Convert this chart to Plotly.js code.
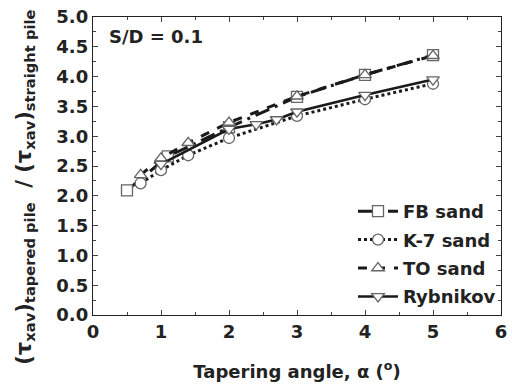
<!DOCTYPE html>
<html><head><meta charset="utf-8">
<script src="https://cdn.plot.ly/plotly-3.0.1.min.js"></script>
<style>body{margin:0;padding:0;background:#fff}#chart{width:512px;height:389px}</style>
</head><body><div id="chart"></div>
<script>
const fbX = [0.5, 1.1, 2, 3, 4, 5];
const fbY = [2.09, 2.66, 3.15, 3.66, 4.03, 4.36];
const k7X = [0.7, 1.0, 1.4, 2, 3, 4, 5];
const k7Y = [2.21, 2.43, 2.68, 2.97, 3.34, 3.62, 3.88];
const toX = [0.7, 1.0, 1.4, 2, 3, 4, 5];
const toY = [2.35, 2.63, 2.89, 3.23, 3.67, 4.03, 4.35];
const ryX = [1.0, 2, 2.4, 2.7, 3, 4, 5];
const ryY = [2.53, 3.12, 3.2, 3.28, 3.41, 3.69, 3.95];
const names = ['FB sand', 'K-7 sand', 'TO sand', 'Rybnikov'];

const F = 'DejaVu Sans, Arial, sans-serif';
const lineCol = '#1a1a1a';
const mkCol = '#666';
function tr(x, y, name, dash, sym, w) {
  return {x: x, y: y, name: name, legendgroup: name, type: 'scatter', mode: 'lines+markers',
    line: {color: lineCol, width: w, dash: dash},
    marker: {symbol: sym, size: 11, color: 'white', line: {color: mkCol, width: 1.3}}};
}
const data = [
  tr(fbX, fbY, names[0], 'longdashdot', 'square', 3),
  tr(k7X, k7Y, names[1], 'dot', 'circle', 3),
  tr(toX, toY, names[2], 'dash', 'triangle-up', 3),
  tr(ryX, ryY, names[3], 'solid', 'triangle-down', 2.5)
];
const txt = {family: F, size: 18, color: '#222', weight: 'bold'};
const layout = {
  width: 512, height: 389,
  margin: {l: 93, r: 11, t: 17, b: 74},
  paper_bgcolor: 'white', plot_bgcolor: 'white',
  showlegend: true,
  legend: {x: 1.0, y: 0.0, xanchor: 'right', yanchor: 'bottom', bgcolor: 'rgba(0,0,0,0)',
    font: txt, tracegroupgap: 2, itemwidth: 40},
  xaxis: {range: [0, 6], dtick: 1, tickformat: 'd', ticks: 'inside', ticklen: 5, tickwidth: 1,
    showline: true, linecolor: '#222', linewidth: 1.2, mirror: 'ticks', showgrid: false, zeroline: false,
    minor: {dtick: 0.5, ticks: 'inside', ticklen: 3, showgrid: false},
    tickfont: txt,
    title: {text: 'Tapering angle, α (<sup>o</sup>)', font: txt, standoff: 24}},
  yaxis: {range: [0, 5], dtick: 0.5, tickformat: '.1f', ticks: 'inside', ticklen: 5, tickwidth: 1,
    showline: true, linecolor: '#222', linewidth: 1.2, mirror: 'ticks', showgrid: false, zeroline: false,
    minor: {dtick: 0.25, ticks: 'inside', ticklen: 3, showgrid: false},
    tickfont: txt},
  annotations: [
    {xref: 'paper', yref: 'paper', x: 0.035, y: 0.975, xanchor: 'left', yanchor: 'top',
     text: 'S/D = 0.1', showarrow: false, font: txt},
    {xref: 'paper', yref: 'paper', x: -0.167, y: 0.43, xanchor: 'center', yanchor: 'middle',
     textangle: -90, showarrow: false,
     text: '(τ<sub>xav</sub>)<sub>tapered pile</sub>  / (τ<sub>xav</sub>)<sub>straight pile</sub>',
     font: {family: F, size: 21, color: '#222', weight: 'bold'}}
  ]
};
Plotly.newPlot('chart', data, layout, {displayModeBar: false, staticPlot: true});
</script></body></html>
